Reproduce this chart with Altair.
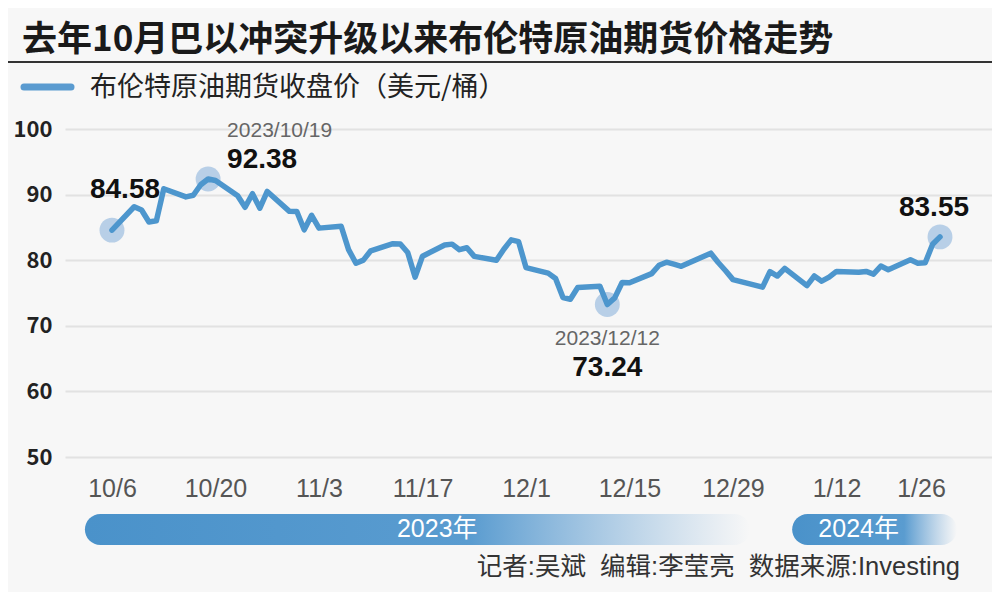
import altair as alt
import pandas as pd

# ---------------- data ----------------
title_text = ["去年10月巴以冲突升级以来布伦特原油期货价格走势"]
legend_text = ["布伦特原油期货收盘价（美元/桶）"]
credit_text = ["记者:吴斌\u00a0\u00a0编辑:李莹亮\u00a0\u00a0数据来源:Investing"]

dates = [
    "2023-10-06", "2023-10-09", "2023-10-10", "2023-10-11", "2023-10-12", "2023-10-13",
    "2023-10-16", "2023-10-17", "2023-10-18", "2023-10-19", "2023-10-20",
    "2023-10-23", "2023-10-24", "2023-10-25", "2023-10-26", "2023-10-27",
    "2023-10-30", "2023-10-31", "2023-11-01", "2023-11-02", "2023-11-03",
    "2023-11-06", "2023-11-07", "2023-11-08", "2023-11-09", "2023-11-10",
    "2023-11-13", "2023-11-14", "2023-11-15", "2023-11-16", "2023-11-17",
    "2023-11-20", "2023-11-21", "2023-11-22", "2023-11-23", "2023-11-24",
    "2023-11-27", "2023-11-28", "2023-11-29", "2023-11-30", "2023-12-01",
    "2023-12-04", "2023-12-05", "2023-12-06", "2023-12-07", "2023-12-08",
    "2023-12-11", "2023-12-12", "2023-12-13", "2023-12-14", "2023-12-15",
    "2023-12-18", "2023-12-19", "2023-12-20", "2023-12-21", "2023-12-22",
    "2023-12-26", "2023-12-27", "2023-12-28", "2023-12-29",
    "2024-01-02", "2024-01-03", "2024-01-04", "2024-01-05",
    "2024-01-08", "2024-01-09", "2024-01-10", "2024-01-11", "2024-01-12",
    "2024-01-15", "2024-01-16", "2024-01-17", "2024-01-18", "2024-01-19",
    "2024-01-22", "2024-01-23", "2024-01-24", "2024-01-25", "2024-01-26",
]
prices = [
    84.58, 88.15, 87.65, 85.82, 86.00, 90.89,
    89.65, 89.90, 91.50, 92.38, 92.16,
    89.83, 88.07, 90.13, 87.93, 90.48,
    87.45, 87.41, 84.63, 86.85, 84.89,
    85.18, 81.61, 79.54, 80.01, 81.43,
    82.52, 82.47, 81.18, 77.42, 80.61,
    82.32, 82.45, 81.60, 81.90, 80.58,
    79.98, 81.68, 83.10, 82.83, 78.88,
    78.03, 77.20, 74.30, 74.05, 75.84,
    76.03, 73.24, 74.26, 76.61, 76.55,
    77.95, 79.23, 79.70, 79.39, 79.07,
    81.07, 79.65, 78.39, 77.04,
    75.89, 78.25, 77.59, 78.76,
    76.12, 77.59, 76.80, 77.41, 78.29,
    78.15, 78.29, 77.88, 79.10, 78.56,
    80.06, 79.55, 79.60, 82.43, 83.55,
]

tick_dates = ["2023-10-06", "2023-10-20", "2023-11-03", "2023-11-17", "2023-12-01",
              "2023-12-15", "2023-12-29", "2024-01-12", "2024-01-26"]
y_ticks = [50, 60, 70, 80, 90, 100]

highlight_dates = ["2023-10-06", "2023-10-19", "2023-12-12", "2024-01-26"]

years = ["2023年", "2024年"]
year_starts = ["2023-10-02T08:00:00Z", "2024-01-06T00:00:00Z"]
year_ends = ["2023-12-31T07:00:00Z", "2024-01-28T07:00:00Z"]
year_label_dates = ["2023-11-19T00:00:00Z", "2024-01-15T00:00:00Z"]

# ---------------- tables ----------------
df = pd.DataFrame({"date": dates, "price": prices})
df_hl = df[df["date"].isin(highlight_dates)].copy()
df_hl["label"] = pd.to_datetime(df_hl["date"]).dt.strftime("%Y/%m/%d")
df_years = pd.DataFrame({"year": years, "start": year_starts, "end": year_ends,
                         "label_at": year_label_dates})

# ---------------- styles ----------------
NUM = "Noto Sans CJK SC, sans-serif"
ANN = "Liberation Sans, Arial, sans-serif"
SANS = "Liberation Sans, Noto Sans CJK SC, sans-serif"
CJK = "Noto Sans CJK SC, sans-serif"
LINE_COLOR = "#4d96cd"

W, H = 927, 328


def dt(s):
    t = pd.Timestamp(s)
    return alt.DateTime(year=t.year, month=t.month, date=t.day,
                        hours=t.hour, minutes=t.minute, utc=True)


xscale = alt.Scale(type="utc", domain=[dt("2023-09-29T15:26"), dt("2024-02-02T00:49")])
yscale = alt.Scale(domain=[50, 100], nice=False, zero=False)

x_axis = alt.Axis(
    values=[dt(d) for d in tick_dates],
    labelExpr="utcFormat(datum.value, '%-m/%-d')",
    grid=False, domain=False, ticks=False, labelFont=SANS, labelFontSize=25,
    labelColor="#555555", labelPadding=19, title=None, labelFlush=False,
    labelOverlap=False,
    labelOffset=alt.condition("utcFormat(datum.value, '%-m/%-d') == '1/26'",
                              alt.value(-19), alt.value(0)),
)
y_axis = alt.Axis(
    values=y_ticks, grid=True, gridColor="#e2e2e2", gridWidth=2, domain=False,
    ticks=False, labelFont=NUM, labelFontSize=22, labelFontWeight="bold",
    labelColor="#222222", labelPadding=13, title=None,
)

X = alt.X("date:T", scale=xscale, axis=x_axis)
Y = alt.Y("price:Q", scale=yscale, axis=y_axis)

line = alt.Chart(df).mark_line(
    color=LINE_COLOR, strokeWidth=5.5, strokeJoin="round", strokeCap="round"
).encode(x=X, y=Y)

circles = alt.Chart(df_hl).mark_circle(size=620, color="#9dbde0", opacity=0.7).encode(x=X, y=Y)


def label(row, field, dx, dy, size, color, bold, align="center", num=True):
    d = df_hl[df_hl["date"] == row]
    txt = alt.Text(f"{field}:Q", format=".2f") if num else alt.Text(f"{field}:N")
    return alt.Chart(d).mark_text(
        dx=dx, dy=dy, fontSize=size, color=color, font=ANN,
        fontWeight="bold" if bold else "normal", align=align, baseline="alphabetic",
    ).encode(x=X, y=Y, text=txt)


labels = [
    label("2023-10-06", "price", 13, -32, 28, "#111111", True),
    label("2023-10-19", "price", 19, -11, 28, "#111111", True, align="left"),
    label("2023-10-19", "label", 19, -42, 21, "#666666", False, align="left", num=False),
    label("2023-12-12", "label", 0, 40, 21, "#666666", False, num=False),
    label("2023-12-12", "price", 0, 71, 28, "#111111", True),
    label("2024-01-26", "price", -6, -21, 28, "#111111", True),
]

one = pd.DataFrame({"k": [0]})

title = alt.Chart(pd.DataFrame({"t": title_text})).mark_text(
    align="left", baseline="alphabetic", fontSize=35, fontWeight="bold",
    font=CJK, color="#1a1a1a",
).encode(x=alt.value(-43), y=alt.value(-78), text="t:N")

underline = alt.Chart(one).mark_rule(color="#333333", strokeWidth=2).encode(
    x=alt.value(-57), x2=alt.value(W), y=alt.value(-67)
)

legend_line = alt.Chart(one).mark_rule(
    color="#5a9bd0", strokeWidth=7, strokeCap="round"
).encode(x=alt.value(-41), x2=alt.value(6), y=alt.value(-42))

legend_label = alt.Chart(pd.DataFrame({"t": legend_text})).mark_text(
    align="left", baseline="middle", fontSize=27, font=CJK, color="#222222",
).encode(x=alt.value(25), y=alt.value(-41), text="t:N")


def year_bar(yr, solid_to):
    grad = alt.Gradient(
        gradient="linear", x1=0, x2=1, y1=0, y2=0,
        stops=[
            alt.GradientStop(offset=0, color="#4a92ca"),
            alt.GradientStop(offset=solid_to, color="#5a9cd0"),
            alt.GradientStop(offset=1, color="rgba(120,170,215,0)"),
        ],
    )
    return alt.Chart(df_years[df_years["year"] == yr]).mark_rect(
        color=grad, cornerRadius=15.5
    ).encode(
        x=alt.X("start:T", scale=xscale, axis=x_axis), x2="end:T",
        y=alt.value(385), y2=alt.value(416),
    )


bars = [year_bar(years[0], 0.58), year_bar(years[1], 0.68)]

year_text = alt.Chart(df_years).mark_text(
    color="white", fontSize=25, font=SANS, baseline="middle", align="center"
).encode(x=alt.X("label_at:T", scale=xscale, axis=x_axis), y=alt.value(400), text="year:N")

credits = alt.Chart(pd.DataFrame({"t": credit_text})).mark_text(
    align="right", baseline="alphabetic", fontSize=25.5, font=SANS, color="#333333",
).encode(x=alt.value(895), y=alt.value(446), text="t:N")

chart = alt.layer(
    circles, line, *labels, title, underline, legend_line, legend_label,
    *bars, year_text, credits,
).properties(
    width=W, height=H,
    autosize=alt.AutoSizeParams(type="none"),
    padding={"left": 57, "top": 121, "right": 0, "bottom": 135},
    background="#f7f7f7",
).configure_view(stroke=None)

chart.save("out.html", embed_options={"renderer": "svg", "actions": False})
